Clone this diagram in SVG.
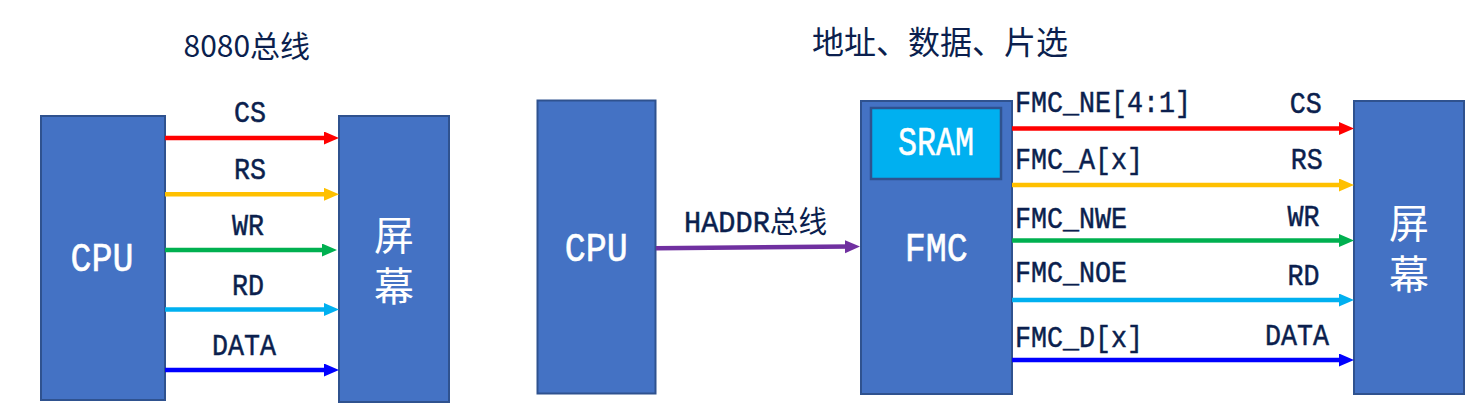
<svg xmlns="http://www.w3.org/2000/svg" width="1484" height="410" viewBox="0 0 1484 410">
  <style>
    .box { fill: #4472C4; stroke: #2F528F; stroke-width: 2; }
    .sram { fill: #00B0F0; stroke: #2F528F; stroke-width: 2.5; }
    .mono { font-family: "Liberation Mono", "DejaVu Sans Mono", monospace; font-size: 30px; fill: #0B1F4E; stroke: #0B1F4E; stroke-width: 0.5; }
    .wmono { font-family: "Liberation Mono", "DejaVu Sans Mono", monospace; font-size: 41px; fill: #FFFFFF; stroke: #FFFFFF; stroke-width: 0.6; text-anchor: middle; }
    .cjk { font-family: "Noto Sans CJK SC", "Noto Sans", sans-serif; fill: #0B1F4E; }
    .vcjk { font-family: "Noto Sans CJK SC", "Noto Sans", sans-serif; font-size: 40px; fill: #FFFFFF; writing-mode: vertical-rl; text-orientation: upright; letter-spacing: 11px; }
    .mid { text-anchor: middle; }
    .ln { stroke-width: 4.5; fill: none; }
  </style>
  <defs>
    <marker id="aRed" markerUnits="userSpaceOnUse" markerWidth="16" markerHeight="14" refX="5" refY="6.5" orient="auto"><path d="M0,0 L15,6.5 L0,13 Z" fill="#FF0000"/></marker>
    <marker id="aYel" markerUnits="userSpaceOnUse" markerWidth="16" markerHeight="14" refX="5" refY="6.5" orient="auto"><path d="M0,0 L15,6.5 L0,13 Z" fill="#FFC000"/></marker>
    <marker id="aGrn" markerUnits="userSpaceOnUse" markerWidth="16" markerHeight="14" refX="5" refY="6.5" orient="auto"><path d="M0,0 L15,6.5 L0,13 Z" fill="#00B050"/></marker>
    <marker id="aCyn" markerUnits="userSpaceOnUse" markerWidth="16" markerHeight="14" refX="5" refY="6.5" orient="auto"><path d="M0,0 L15,6.5 L0,13 Z" fill="#00B0F0"/></marker>
    <marker id="aBlu" markerUnits="userSpaceOnUse" markerWidth="16" markerHeight="14" refX="5" refY="6.5" orient="auto"><path d="M0,0 L15,6.5 L0,13 Z" fill="#0000FF"/></marker>
    <marker id="aPur" markerUnits="userSpaceOnUse" markerWidth="16" markerHeight="14" refX="5" refY="6.5" orient="auto"><path d="M0,0 L15,6.5 L0,13 Z" fill="#7030A0"/></marker>
  </defs>
  <rect width="1484" height="410" fill="#FFFFFF"/>

  <!-- titles -->
  <g id="titles">
    <text class="cjk" x="183.5" y="57.3" font-size="30">8080总线</text>
    <text class="cjk" x="812" y="53.8" font-size="32">地址、数据、片选</text>
  </g>

  <!-- left diagram nodes -->
  <g id="cpu1">
    <rect class="box" x="41" y="116" width="124" height="284"/>
    <text class="wmono" x="102" y="271" textLength="63" lengthAdjust="spacingAndGlyphs">CPU</text>
  </g>
  <g id="screen1">
    <rect class="box" x="339" y="116" width="110" height="286"/>
    <text class="vcjk" x="394" y="214.5">屏幕</text>
  </g>

  <!-- right diagram nodes -->
  <g id="cpu2">
    <rect class="box" x="537.5" y="100.5" width="118" height="293"/>
    <text class="wmono" x="596.3" y="260.7" textLength="63" lengthAdjust="spacingAndGlyphs">CPU</text>
  </g>
  <g id="fmc">
    <rect class="box" x="861" y="101" width="151" height="293"/>
    <text class="wmono" x="936.3" y="261" textLength="63" lengthAdjust="spacingAndGlyphs">FMC</text>
  </g>
  <g id="sram">
    <rect class="sram" x="871" y="108" width="130" height="71"/>
    <text class="wmono" x="936" y="155" font-size="38" textLength="76" lengthAdjust="spacingAndGlyphs">SRAM</text>
  </g>
  <g id="screen2">
    <rect class="box" x="1354" y="101" width="110" height="293"/>
    <text class="vcjk" x="1409" y="203">屏幕</text>
  </g>

  <!-- connectors -->
  <g id="connectors">
    <line class="ln" x1="165" y1="138" x2="329" y2="138" stroke="#FF0000" marker-end="url(#aRed)"/>
    <line class="ln" x1="165" y1="194.3" x2="329" y2="194.3" stroke="#FFC000" marker-end="url(#aYel)"/>
    <line class="ln" x1="165" y1="250" x2="327" y2="250" stroke="#00B050" marker-end="url(#aGrn)"/>
    <line class="ln" x1="165" y1="309.5" x2="329" y2="309.5" stroke="#00B0F0" marker-end="url(#aCyn)"/>
    <line class="ln" x1="165" y1="370" x2="329" y2="370" stroke="#0000FF" marker-end="url(#aBlu)"/>

    <line class="ln" x1="656" y1="248.3" x2="850" y2="246.6" stroke="#7030A0" marker-end="url(#aPur)"/>

    <line class="ln" x1="1012" y1="128.5" x2="1344" y2="128.5" stroke="#FF0000" marker-end="url(#aRed)"/>
    <line class="ln" x1="1012" y1="185" x2="1344" y2="185" stroke="#FFC000" marker-end="url(#aYel)"/>
    <line class="ln" x1="1012" y1="240.5" x2="1344" y2="240.5" stroke="#00B050" marker-end="url(#aGrn)"/>
    <line class="ln" x1="1012" y1="300" x2="1344" y2="300" stroke="#00B0F0" marker-end="url(#aCyn)"/>
    <line class="ln" x1="1012" y1="360" x2="1344" y2="360" stroke="#0000FF" marker-end="url(#aBlu)"/>
  </g>

  <!-- connector labels -->
  <g id="labels">
    <text class="mono mid" x="250" y="121.7" textLength="32" lengthAdjust="spacingAndGlyphs">CS</text>
    <text class="mono mid" x="250" y="179.3" textLength="32" lengthAdjust="spacingAndGlyphs">RS</text>
    <text class="mono mid" x="248" y="235" textLength="32" lengthAdjust="spacingAndGlyphs">WR</text>
    <text class="mono mid" x="248" y="295.3" textLength="32" lengthAdjust="spacingAndGlyphs">RD</text>
    <text class="mono mid" x="244" y="355" textLength="64" lengthAdjust="spacingAndGlyphs">DATA</text>

    <text x="684" y="231.7" textLength="143" lengthAdjust="spacingAndGlyphs"><tspan class="mono">HADDR</tspan><tspan class="cjk" font-size="30" stroke="none">总线</tspan></text>

    <text class="mono" x="1015" y="112" textLength="176" lengthAdjust="spacingAndGlyphs">FMC_NE[4:1]</text>
    <text class="mono" x="1015" y="169.3" textLength="128" lengthAdjust="spacingAndGlyphs">FMC_A[x]</text>
    <text class="mono" x="1015" y="228.3" textLength="112" lengthAdjust="spacingAndGlyphs">FMC_NWE</text>
    <text class="mono" x="1015" y="281.7" textLength="112" lengthAdjust="spacingAndGlyphs">FMC_NOE</text>
    <text class="mono" x="1015" y="346.7" textLength="128" lengthAdjust="spacingAndGlyphs">FMC_D[x]</text>

    <text class="mono mid" x="1305.7" y="112.7" textLength="32" lengthAdjust="spacingAndGlyphs">CS</text>
    <text class="mono mid" x="1306.7" y="169.3" textLength="32" lengthAdjust="spacingAndGlyphs">RS</text>
    <text class="mono mid" x="1303.5" y="225.7" textLength="32" lengthAdjust="spacingAndGlyphs">WR</text>
    <text class="mono mid" x="1303.5" y="285" textLength="32" lengthAdjust="spacingAndGlyphs">RD</text>
    <text class="mono mid" x="1297" y="345" textLength="64" lengthAdjust="spacingAndGlyphs">DATA</text>
  </g>
</svg>
